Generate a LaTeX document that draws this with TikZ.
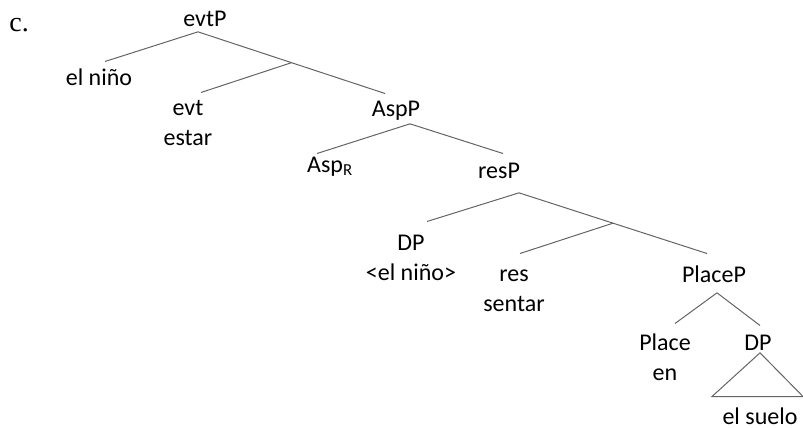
\documentclass[tikz,border=0pt]{standalone}
\usepackage{fontspec}
\setmainfont{Carlito}
\newfontfamily\exserif{Liberation Serif}
\usetikzlibrary{calc}
\tikzset{every picture/.style={line width=0.75pt}}
\tikzset{
  treelbl/.style={anchor=base, inner sep=0.75pt, align=center,
    font=\fontsize{18}{22.5}\selectfont, text height=12pt, text depth=4pt},
  branch/.style={draw={rgb, 255:red, 100; green, 100; blue, 100 }, line width=0.75}
}

\begin{document}
\begin{tikzpicture}[x=0.75pt,y=0.75pt,yscale=-1,xscale=1]
\useasboundingbox (0,0) rectangle (803,428);

% Text Node
\draw (8,32) node [anchor=base west][inner sep=0.75pt][font=\exserif\fontsize{21}{25}\selectfont] (exlabel) {c.};
% Text Node
\draw (205,27) node [treelbl] (evtP) {evtP};
% Text Node
\draw (99,85) node [treelbl] (elnino) {el niño};
% Text Node (two lines: placed at the lower baseline)
\draw (188,145) node [treelbl] (evt) {evt\\estar};
% Text Node
\draw (396,117) node [treelbl] (AspP) {AspP};
% Text Node
\draw (330,172) node [treelbl] (AspR) {Asp\textsubscript{R}};
% Text Node
\draw (499,178) node [treelbl] (resP) {resP};
% Text Node
\draw (411,280) node [treelbl] (DPa) {DP\\<el niño>};
% Text Node
\draw (514,311) node [treelbl] (res) {res\\sentar};
% Text Node
\draw (714,282) node [treelbl] (PlaceP) {PlaceP};
% Text Node
\draw (665,380) node [treelbl] (Place) {Place\\en};
% Text Node
\draw (758,350) node [treelbl] (DPb) {DP};
% Text Node
\draw (760,424) node [treelbl] (elsuelo) {el suelo};

% branch ends
\coordinate (evtP-apex) at ($(evtP.south)+(-7,-2)$);
\coordinate (AspP-top) at ($(AspP.north)+(-11,-6)$);
\coordinate (AspP-apex) at ($(AspP.south)+(14,0)$);
\coordinate (resP-apex) at ($(resP.south)+(20,8)$);
\coordinate (PlaceP-top) at ($(PlaceP.north)+(-7,-11)$);
\coordinate (PlaceP-apex) at ($(PlaceP.south)+(3,4)$);

%Straight Lines
\draw [branch] (evtP-apex) -- ($(elnino.north)+(6,-6)$);
%Straight Lines
\draw [branch] (evtP-apex) -- (AspP-top);
%Straight Lines
\draw [branch] ($(evtP-apex)!0.5!(AspP-top)$) -- ($(evt.north)+(13,-35)$);
%Straight Lines
\draw [branch] (AspP-apex) -- ($(AspR.north)+(-13,-1)$);
%Straight Lines
\draw [branch] (AspP-apex) -- ($(resP.north)+(4,-7)$);
%Straight Lines
\draw [branch] (resP-apex) -- ($(DPa.north)+(16,-41)$);
%Straight Lines
\draw [branch] (resP-apex) -- (PlaceP-top);
%Straight Lines
\draw [branch] ($(resP-apex)!0.5!(PlaceP-top)$) -- ($(res.north)+(6,-40)$);
%Straight Lines
\draw [branch] (PlaceP-apex) -- ($(Place.north)+(10,-39)$);
%Straight Lines
\draw [branch] (PlaceP-apex) -- ($(DPb.north)+(2,-7)$);
%Shape: Triangle
\draw [branch] ($(DPb.south)+(2,-4)$) -- ($(elsuelo.north)+(-48,-10)$) -- ($(elsuelo.north)+(43,-10)$) -- cycle;

\end{tikzpicture}
\end{document}
